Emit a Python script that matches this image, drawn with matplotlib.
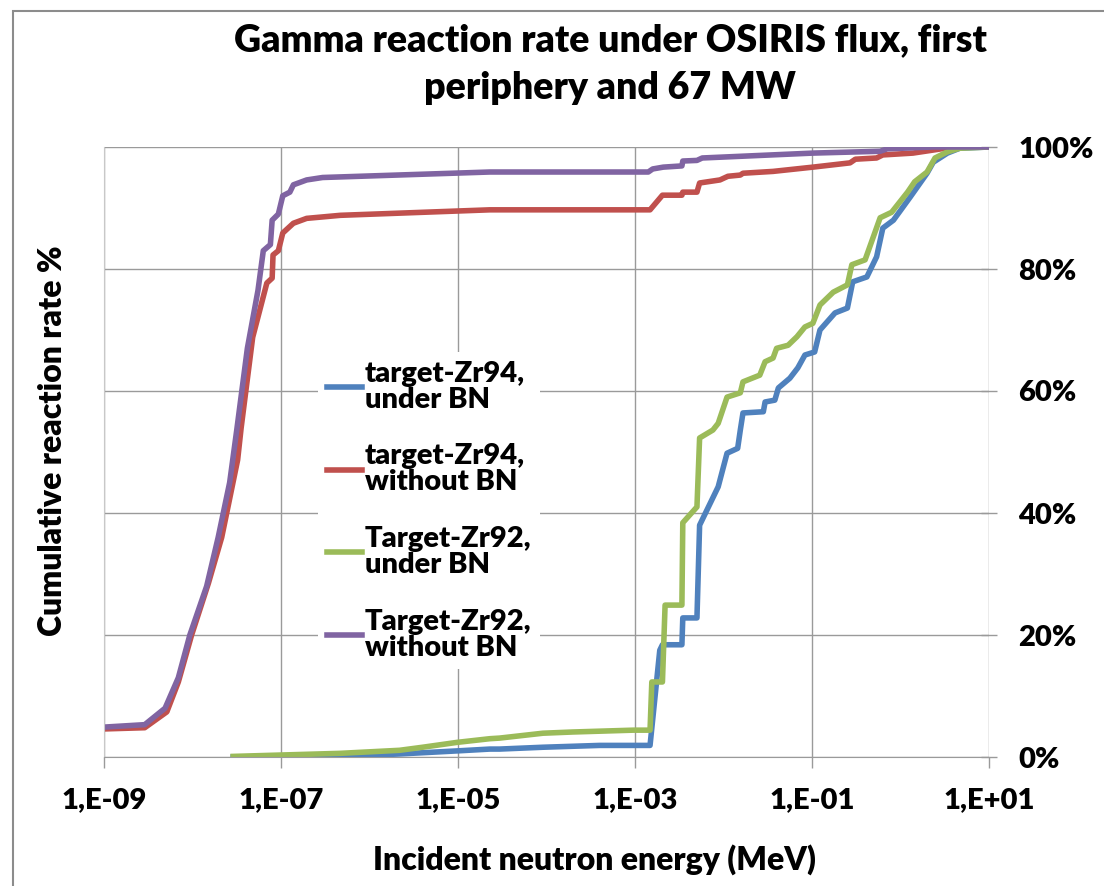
import matplotlib
matplotlib.use("Agg")
import matplotlib.pyplot as plt
import numpy as np
from matplotlib.patches import Rectangle
from matplotlib.ticker import FixedLocator, NullLocator, PercentFormatter

plt.rcParams["font.family"] = ["Lato", "DejaVu Sans"]
plt.rcParams["font.weight"] = "heavy"
W = "heavy"

# log10 of incident neutron energy (MeV) and cumulative rate (%)
zr94_bn_logE = [-7.54, -6.30, -5.66, -5.01, -4.64, -4.53, -4.04, -3.40, -2.83, -2.72,
                -2.69, -2.47, -2.46, -2.30, -2.27, -2.06, -1.96, -1.84, -1.81, -1.78,
                -1.55, -1.53, -1.42, -1.38, -1.25, -1.16, -1.08, -0.97, -0.91, -0.74,
                -0.60, -0.54, -0.38, -0.27, -0.20, -0.08, 0.11, 0.30, 0.37, 0.53,
                0.67, 1.00]
zr94_bn_pct = [0.0, 0.1, 0.5, 1.0, 1.3, 1.3, 1.6, 1.9, 1.9, 17.5,
               18.4, 18.4, 22.8, 22.8, 38.0, 44.3, 49.8, 50.6, 53.6, 56.4,
               56.6, 58.2, 58.5, 60.5, 62.1, 63.8, 65.9, 66.4, 70.0, 72.8,
               73.6, 77.9, 78.7, 82.0, 86.7, 88.0, 91.8, 95.7, 97.5, 99.0,
               99.8, 100.0]

zr94_wo_logE = [-9.00, -8.54, -8.29, -8.16, -8.01, -7.82, -7.67, -7.49, -7.45, -7.32,
                -7.16, -7.10, -7.09, -7.03, -6.98, -6.92, -6.86, -6.71, -6.33, -4.64,
                -2.83, -2.69, -2.47, -2.46, -2.30, -2.27, -2.04, -1.95, -1.81, -1.78,
                -1.44, -0.99, -0.57, -0.51, -0.27, -0.20, 0.14, 0.37, 0.60, 1.00]
zr94_wo_pct = [4.6, 4.8, 7.4, 12.3, 20.0, 28.5, 36.0, 48.7, 54.0, 68.8,
               77.7, 78.5, 82.3, 83.0, 85.9, 86.7, 87.5, 88.3, 88.8, 89.7,
               89.7, 92.1, 92.1, 92.6, 92.6, 94.1, 94.6, 95.2, 95.4, 95.7,
               96.0, 96.7, 97.4, 98.0, 98.2, 98.7, 99.0, 99.5, 100.0, 100.0]

zr92_bn_logE = [-7.54, -6.33, -5.66, -5.40, -5.01, -4.64, -4.53, -4.04, -3.70, -3.02,
                -2.83, -2.81, -2.69, -2.66, -2.47, -2.46, -2.30, -2.27, -2.12, -2.06,
                -1.96, -1.81, -1.78, -1.59, -1.53, -1.44, -1.40, -1.27, -1.17, -1.08,
                -0.99, -0.91, -0.76, -0.60, -0.55, -0.40, -0.23, -0.10, 0.08, 0.16,
                0.30, 0.39, 0.53, 0.67, 1.00]
zr92_bn_pct = [0.1, 0.6, 1.1, 1.6, 2.4, 3.0, 3.1, 3.9, 4.1, 4.4,
               4.4, 12.3, 12.3, 24.9, 24.9, 38.4, 41.0, 52.3, 53.6, 54.7,
               59.0, 59.7, 61.5, 62.6, 64.8, 65.4, 67.0, 67.5, 68.9, 70.5,
               71.1, 74.1, 76.2, 77.4, 80.7, 81.5, 88.4, 89.3, 92.6, 94.3,
               95.9, 98.2, 99.2, 99.8, 100.0]

zr92_wo_logE = [-9.00, -8.54, -8.31, -8.16, -8.03, -7.84, -7.71, -7.58, -7.50, -7.38,
                -7.26, -7.20, -7.12, -7.10, -7.03, -6.98, -6.90, -6.86, -6.71, -6.53,
                -4.64, -2.85, -2.80, -2.68, -2.47, -2.46, -2.30, -2.24, -0.99, -0.23,
                -0.15, 0.37, 1.00]
zr92_wo_pct = [4.9, 5.3, 8.0, 13.0, 20.0, 28.0, 36.0, 45.0, 53.6, 67.0,
               76.5, 83.0, 84.0, 88.0, 89.0, 92.0, 92.6, 93.8, 94.6, 95.0,
               95.9, 95.9, 96.4, 96.7, 96.9, 97.7, 97.8, 98.2, 99.0, 99.3,
               99.7, 100.0, 100.0]

series = [
    ("target-Zr94,\nunder BN", zr94_bn_logE, zr94_bn_pct, "#4F81BD"),
    ("target-Zr94,\nwithout BN", zr94_wo_logE, zr94_wo_pct, "#C0504D"),
    ("Target-Zr92,\nunder BN", zr92_bn_logE, zr92_bn_pct, "#9BBB59"),
    ("Target-Zr92,\nwithout BN", zr92_wo_logE, zr92_wo_pct, "#8064A2"),
]

x_ticks = [1e-9, 1e-7, 1e-5, 1e-3, 1e-1, 1e1]
x_ticklabels = ["1,E-09", "1,E-07", "1,E-05", "1,E-03", "1,E-01", "1,E+01"]
y_ticks = [0.0, 0.2, 0.4, 0.6, 0.8, 1.0]

grid_col = "#9a9a9a"

fig = plt.figure(figsize=(11.04, 8.86), dpi=100)
ax = fig.add_axes([104 / 1104, 1 - 757 / 886, 885 / 1104, 610 / 886])

for label, logE, pct, col in series:
    ax.plot(np.power(10.0, logE), np.array(pct) / 100.0, color=col, lw=4.0,
            label=label, solid_joinstyle="round")

ax.set_xscale("log")
ax.set_xlim(1e-9, 1e1)
ax.set_ylim(0, 1)
ax.xaxis.set_major_locator(FixedLocator(x_ticks))
ax.xaxis.set_minor_locator(NullLocator())
ax.set_xticklabels(x_ticklabels)
ax.set_yticks(y_ticks)
ax.yaxis.set_major_formatter(PercentFormatter(1.0, decimals=0))
ax.yaxis.tick_right()
for t in ax.get_xticklabels() + ax.get_yticklabels():
    t.set_fontweight(W)

ax.grid(True, color=grid_col, lw=1.0)
ax.set_axisbelow(True)
for side in ["top", "right"]:
    ax.spines[side].set_visible(False)
ax.spines["left"].set_color("#c8c8c8")
ax.spines["bottom"].set_color(grid_col)

ax.tick_params(axis="x", direction="out", length=8, width=1, color=grid_col,
               labelsize=21, pad=14)
ax.tick_params(axis="y", direction="inout", length=12, width=1, color=grid_col,
               labelsize=21, pad=15)

fig.text(594 / 1104, 1 - 860 / 886, "Incident neutron energy (MeV)",
         fontsize=23, fontweight=W, ha="center", va="center")
fig.text(53 / 1104, 1 - 441 / 886, "Cumulative reaction rate %", rotation=90,
         fontsize=23, fontweight=W, ha="center", va="center")

fig.text(610 / 1104, 1 - 64 / 886,
         "Gamma reaction rate under OSIRIS flux, first\nperiphery and 67 MW",
         fontsize=27, fontweight=W, ha="center", va="center",
         linespacing=1.48)

leg = ax.legend(loc="upper left", bbox_to_anchor=((318 - 104) / 885, (757 - 352) / 610),
                frameon=True, fontsize=21, handlelength=1.2, handletextpad=0.1,
                labelspacing=1.05, borderaxespad=0, borderpad=0.3)
leg.get_frame().set_edgecolor("none")
leg.get_frame().set_facecolor("white")
leg.get_frame().set_alpha(1)
for t in leg.get_texts():
    t.set_fontweight(W)
    t.set_linespacing(1.0)

fig.patches.append(Rectangle((13 / 1104, -0.1), 1.2, 1.1 - 11 / 886,
                             transform=fig.transFigure, fill=False,
                             edgecolor="#8c8c8c", lw=1.5))

fig.savefig("out.png", dpi=100)
